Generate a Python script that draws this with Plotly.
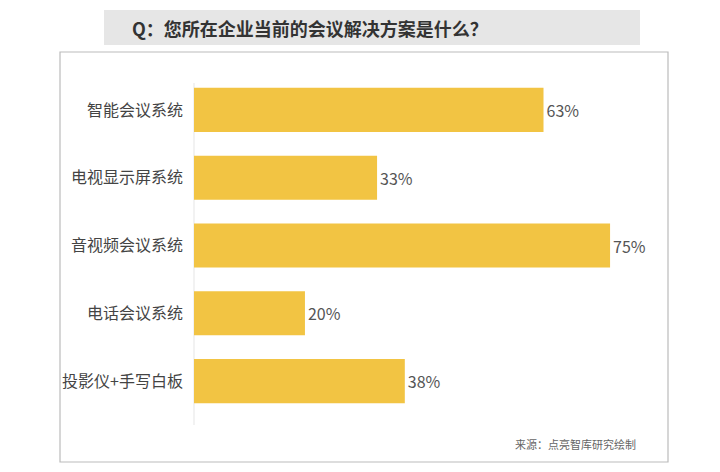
import plotly.graph_objects as go

categories = ["智能会议系统", "电视显示屏系统", "音视频会议系统", "电话会议系统", "投影仪+手写白板"]
values = [63, 33, 75, 20, 38]
title_text = "Q：您所在企业当前的会议解决方案是什么？"
source_text = "来源：点亮智库研究绘制"

FONT = "Noto Sans CJK SC"
L, R, T, B = 194, 60, 76, 57
W, H = 720, 472
pw, ph = W - L - R, H - T - B

def px(x):
    return (x - L) / pw

def py(y):
    return (H - B - y) / ph

fig = go.Figure(go.Bar(
    x=values, y=categories, orientation="h",
    marker=dict(color="#F2C443", line=dict(width=0)),
    text=[f"{v}%" for v in values], textposition="outside",
    textfont=dict(size=16, color="#555555", family=FONT),
    cliponaxis=False, width=0.65,
))

fig.update_layout(
    width=W, height=H,
    margin=dict(l=L, r=R, t=T, b=B),
    paper_bgcolor="white", plot_bgcolor="white",
    showlegend=False,
    font=dict(family=FONT),
    xaxis=dict(range=[0, 84], visible=False, fixedrange=True),
    yaxis=dict(autorange="reversed", showgrid=False, showline=False, zeroline=False,
               ticks="", ticklabelstandoff=10,
               tickfont=dict(size=16, color="#444444", family=FONT)),
    shapes=[
        dict(type="rect", xref="paper", yref="paper", x0=px(60), x1=px(668), y0=py(462), y1=py(52),
             line=dict(color="#BBBBBB", width=1.2), fillcolor="rgba(0,0,0,0)", layer="below"),
        dict(type="rect", xref="paper", yref="paper", x0=px(104), x1=px(640), y0=py(45), y1=py(10),
             line=dict(width=0), fillcolor="#E6E6E6", layer="below"),
        dict(type="line", xref="paper", yref="paper", x0=0, x1=0, y0=py(425), y1=py(83),
             line=dict(color="#EEEEEE", width=1.5), layer="below"),
    ],
    annotations=[
        dict(text=f"<b>{title_text}</b>", xref="paper", yref="paper", x=px(130), y=py(28),
             xanchor="left", yanchor="middle", showarrow=False,
             font=dict(size=18, color="#333333", family=FONT)),
        dict(text=source_text, xref="paper", yref="paper", x=px(638), y=py(444),
             xanchor="right", yanchor="middle", showarrow=False,
             font=dict(size=11, color="#666666", family=FONT)),
    ],
)

fig.write_html("out.html", config={"displayModeBar": False},
               post_script="document.body.style.margin='0';")
